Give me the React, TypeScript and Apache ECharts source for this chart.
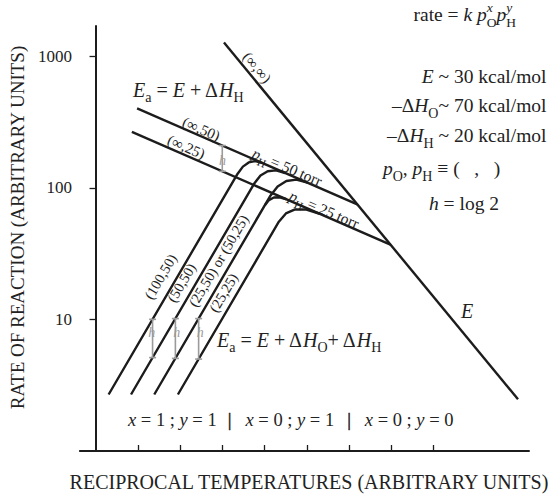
import React, { useEffect, useRef } from 'react';
import * as echarts from 'echarts';

const FONT = '"Liberation Serif", "Times New Roman", Times, serif';
const INK = '#1c1c1c';
const GRAY = '#9b9b9b';

// x: reciprocal temperature (tick units), y: rate of reaction (arbitrary, log scale)
const xTicks = [1, 2, 3, 4, 5, 6, 7, 8];
const yTicks = [10, 100, 1000];

// Limiting lines
const lineE = [[3.04, 1276], [10.0, 2.47]];
const lineH50 = [[0.984, 402.7], [6.195, 75.1]];
const lineH25 = [[0.86, 267], [6.979, 37.1]];
// Rising branches (x = 1; y = 1) bending into the pH lines
const curve100_50 = [[0.31, 2.69], [3.364, 128.5], [3.488, 145.4], [3.626, 156.4], [3.778, 159.9], [3.942, 155.2]];
const curve50_50 = [[0.84, 2.69], [3.762, 108.8], [3.905, 124.5], [4.075, 134.2], [4.27, 136.1], [4.492, 130.0]];
const curve25_50 = [[1.39, 2.69], [4.13, 86.4], [4.31, 102.6], [4.517, 113.1], [4.753, 115.7], [5.017, 109.8]];
const curve50_25 = [[4.012, 74.3], [4.105, 80.9], [4.221, 84.6], [4.359, 85.0], [4.519, 82.1]];
const curve25_25 = [[1.95, 2.69], [4.339, 55.4], [4.506, 64.0], [4.723, 68.7], [4.99, 68.6], [5.307, 63.7]];
// h = log 2 markers
const hUpper = [[3.0, 210.3], [3.0, 133.9]];
const hLower1 = [[1.35, 10.03], [1.35, 5.13]];
const hLower2 = [[1.89, 10.16], [1.89, 5.06]];
const hLower3 = [[2.44, 10.16], [2.44, 5.0]];

type Seg = { t: string; it?: boolean; sz?: number; dy?: number; stack?: boolean; bold?: boolean };

let mctx: CanvasRenderingContext2D | null = null;
function measure(t: string, font: string) {
  if (!mctx) mctx = document.createElement('canvas').getContext('2d');
  mctx!.font = font;
  return mctx!.measureText(t).width;
}

function mathGroup(
  segs: Seg[],
  opt: { x: number; y: number; base: number; align: 'left' | 'center' | 'right'; rotation?: number; color?: string; vcenter?: boolean; stroke?: boolean }
) {
  let cur = 0;
  let prevStart = 0;
  const items: any[] = [];
  for (const s of segs) {
    const size = s.sz ?? opt.base;
    const f = `${s.it ? 'italic ' : ''}${s.bold ? 'bold ' : ''}${size}px ${FONT}`;
    const w = measure(s.t, f);
    const sx = s.stack ? prevStart : cur;
    items.push({ s, size, sx, w });
    if (s.stack) cur = Math.max(cur, sx + w);
    else {
      prevStart = sx;
      cur = sx + w;
    }
  }
  const W = cur;
  const off = opt.align === 'left' ? 0 : opt.align === 'center' ? -W / 2 : -W;
  const baseShift = opt.vcenter ? 0.3 * opt.base : 0;
  const fill = opt.color ?? '#222';
  const children = items.map((it) => ({
    type: 'text',
    x: off + it.sx,
    y: baseShift + (it.s.dy ?? 0) - 0.34 * it.size,
    style: {
      text: it.s.t,
      fontFamily: FONT,
      fontSize: it.size,
      fontStyle: it.s.it ? 'italic' : 'normal',
      fontWeight: it.s.bold ? 'bold' : 'normal',
      fill,
      stroke: opt.stroke ? fill : undefined,
      lineWidth: opt.stroke ? 0.5 : 0,
      textAlign: 'left',
      textVerticalAlign: 'middle',
    },
  }));
  return { type: 'group', x: opt.x, y: opt.y, rotation: opt.rotation ?? 0, children, silent: true };
}

const ROT_H = -0.407; // along pH lines
const ROT_E = -0.878; // along E line
const ROT_R = 1.038; // along rising lines

function buildGraphic() {
  const g: any[] = [];
  const R = 19.5;
  // top right formula
  g.push(mathGroup([
    { t: 'rate = ' }, { t: 'k', it: true }, { t: ' ' },
    { t: 'p', it: true }, { t: 'O', sz: 13.5, dy: 6.5 }, { t: 'x', it: true, sz: 13.5, dy: -8.5, stack: true },
    { t: 'p', it: true }, { t: 'H', sz: 13.5, dy: 6.5 }, { t: 'y', it: true, sz: 13.5, dy: -8.5, stack: true },
  ], { x: 516, y: 20.7, base: R, align: 'right' }));
  g.push(mathGroup([{ t: 'E', it: true }, { t: ' ~ 30 kcal/mol' }], { x: 546.5, y: 83, base: R, align: 'right' }));
  g.push(mathGroup([{ t: '–Δ' }, { t: 'H', it: true }, { t: 'O', sz: 14, dy: 6.5 }, { t: '~ 70 kcal/mol' }], { x: 546.5, y: 112, base: R, align: 'right' }));
  g.push(mathGroup([{ t: '–Δ' }, { t: 'H', it: true }, { t: 'H', sz: 14, dy: 6.5 }, { t: ' ~ 20 kcal/mol' }], { x: 546.5, y: 142, base: R, align: 'right' }));
  g.push(mathGroup([
    { t: 'p', it: true }, { t: 'O', sz: 14, dy: 6.5 }, { t: ', ' },
    { t: 'p', it: true }, { t: 'H', sz: 14, dy: 6.5 }, { t: ' ≡ (   ,   )' },
  ], { x: 383, y: 175, base: R, align: 'left' }));
  g.push(mathGroup([{ t: 'h', it: true }, { t: ' = log 2' }], { x: 464, y: 210.5, base: R, align: 'center' }));

  // activation energy labels
  g.push(mathGroup([
    { t: 'E', it: true }, { t: 'a', sz: 14, dy: 5.5 }, { t: ' = ' }, { t: 'E', it: true }, { t: ' + Δ' },
    { t: 'H', it: true }, { t: 'H', sz: 14, dy: 5.5 },
  ], { x: 133, y: 97, base: 20, align: 'left' }));
  g.push(mathGroup([
    { t: 'E', it: true }, { t: 'a', sz: 14, dy: 5.5 }, { t: ' = ' }, { t: 'E', it: true }, { t: ' + Δ' },
    { t: 'H', it: true }, { t: 'O', sz: 14, dy: 5.5 }, { t: '+ Δ' }, { t: 'H', it: true }, { t: 'H', sz: 14, dy: 5.5 },
  ], { x: 217, y: 347, base: 20, align: 'left' }));
  g.push(mathGroup([{ t: 'E', it: true }], { x: 461, y: 318, base: 20, align: 'left' }));

  // regime row
  const row = (a: string, b: string) => [{ t: 'x', it: true }, { t: ` = ${a} ; ` }, { t: 'y', it: true }, { t: ` = ${b}` }];
  g.push(mathGroup(row('1', '1'), { x: 128, y: 426.7, base: 18.5, align: 'left' }));
  g.push(mathGroup([{ t: '|' }], { x: 229.7, y: 426.7, base: 18.5, align: 'center', stroke: true }));
  g.push(mathGroup(row('0', '1'), { x: 245.5, y: 426.7, base: 18.5, align: 'left' }));
  g.push(mathGroup([{ t: '|' }], { x: 349, y: 426.7, base: 18.5, align: 'center', stroke: true }));
  g.push(mathGroup(row('0', '0'), { x: 364.8, y: 426.7, base: 18.5, align: 'left' }));

  // line labels
  g.push(mathGroup([{ t: '(∞,∞)' }], { x: 256.5, y: 68, base: 15, align: 'center', rotation: ROT_E, vcenter: true }));
  g.push(mathGroup([{ t: '(∞,50)' }], { x: 201, y: 129.5, base: 15, align: 'center', rotation: ROT_H, vcenter: true }));
  g.push(mathGroup([{ t: '(∞,25)' }], { x: 186, y: 147.5, base: 15, align: 'center', rotation: ROT_H, vcenter: true }));
  g.push(mathGroup([{ t: 'p', it: true }, { t: 'H', sz: 11.5, dy: 5 }, { t: ' = 50 torr' }], { x: 287, y: 167.5, base: 15.5, align: 'center', rotation: ROT_H, vcenter: true }));
  g.push(mathGroup([{ t: 'p', it: true }, { t: 'H', sz: 11.5, dy: 5 }, { t: ' = 25 torr' }], { x: 324, y: 210, base: 15.5, align: 'center', rotation: ROT_H, vcenter: true }));
  g.push(mathGroup([{ t: '(100,50)' }], { x: 161, y: 277, base: 14.5, align: 'center', rotation: ROT_R, vcenter: true }));
  g.push(mathGroup([{ t: '(50,50)' }], { x: 182, y: 283, base: 14.5, align: 'center', rotation: ROT_R, vcenter: true }));
  g.push(mathGroup([{ t: '(25,50) or (50,25)' }], { x: 219, y: 261, base: 14.5, align: 'center', rotation: ROT_R, vcenter: true }));
  g.push(mathGroup([{ t: '(25,25)' }], { x: 224, y: 293, base: 14.5, align: 'center', rotation: ROT_R, vcenter: true }));

  // h labels
  const hl = (x: number, y: number) => mathGroup([{ t: 'h', it: true }], { x, y, base: 14, align: 'center', color: GRAY, vcenter: true });
  g.push(hl(222.5, 161));
  g.push(hl(151.7, 333));
  g.push(hl(176.7, 333));
  g.push(hl(200.3, 333));
  return g;
}

export default function App() {
  const ref = useRef<HTMLDivElement>(null);
  useEffect(() => {
    if (!ref.current) return;
    const chart = echarts.init(ref.current, null, { renderer: 'svg' });
    const blackLine = (name: string, data: number[][]) => ({
      name,
      type: 'line',
      data,
      showSymbol: false,
      silent: true,
      lineStyle: { color: INK, width: 2.4 },
      z: 3,
    });
    const hMark = (name: string, data: number[][]) => ({
      name,
      type: 'line',
      data,
      symbol: 'rect',
      symbolSize: [7, 1.6],
      showSymbol: true,
      silent: true,
      itemStyle: { color: GRAY },
      lineStyle: { color: GRAY, width: 1.6 },
      z: 4,
    });
    chart.setOption({
      animation: false,
      backgroundColor: '#ffffff',
      grid: { left: 71, right: 21, top: 26, bottom: 45 },
      xAxis: {
        type: 'value',
        min: -0.37,
        max: 10.26,
        name: 'RECIPROCAL TEMPERATURES (ARBITRARY UNITS)',
        nameLocation: 'middle',
        nameGap: 21,
        nameTextStyle: { fontFamily: FONT, fontSize: 20, color: '#222', padding: [0, 0, 0, 9] },
        axisLine: { lineStyle: { color: INK, width: 2 } },
        axisTick: { show: true, inside: true, length: 6, lineStyle: { color: INK, width: 1.3 }, customValues: xTicks },
        axisLabel: { show: false },
        splitLine: { show: false },
      },
      yAxis: {
        type: 'log',
        logBase: 10,
        min: 1,
        max: 1705,
        name: 'RATE OF REACTION (ARBITRARY UNITS)',
        nameLocation: 'middle',
        nameRotate: 90,
        nameGap: 48,
        nameTextStyle: { fontFamily: FONT, fontSize: 19, color: '#222', padding: [0, 0, 0, 22] },
        axisLine: { lineStyle: { color: INK, width: 2 } },
        axisTick: { show: true, inside: false, length: 6, lineStyle: { color: INK, width: 1.3 }, customValues: yTicks },
        axisLabel: { customValues: yTicks, fontFamily: FONT, fontSize: 17, color: '#222', margin: 8, formatter: (v: number) => String(Math.round(v)) },
        splitLine: { show: false },
      },
      series: [
        blackLine('E', lineE),
        blackLine('(∞,50)', lineH50),
        blackLine('(∞,25)', lineH25),
        blackLine('(100,50)', curve100_50),
        blackLine('(50,50)', curve50_50),
        blackLine('(25,50)', curve25_50),
        blackLine('(50,25)', curve50_25),
        blackLine('(25,25)', curve25_25),
        hMark('h upper', hUpper),
        hMark('h 1', hLower1),
        hMark('h 2', hLower2),
        hMark('h 3', hLower3),
      ],
      graphic: buildGraphic(),
    });
    return () => chart.dispose();
  }, []);
  return <div ref={ref} style={{ position: 'absolute', left: 0, top: 0, width: 550, height: 497, background: '#fff' }} />;
}
